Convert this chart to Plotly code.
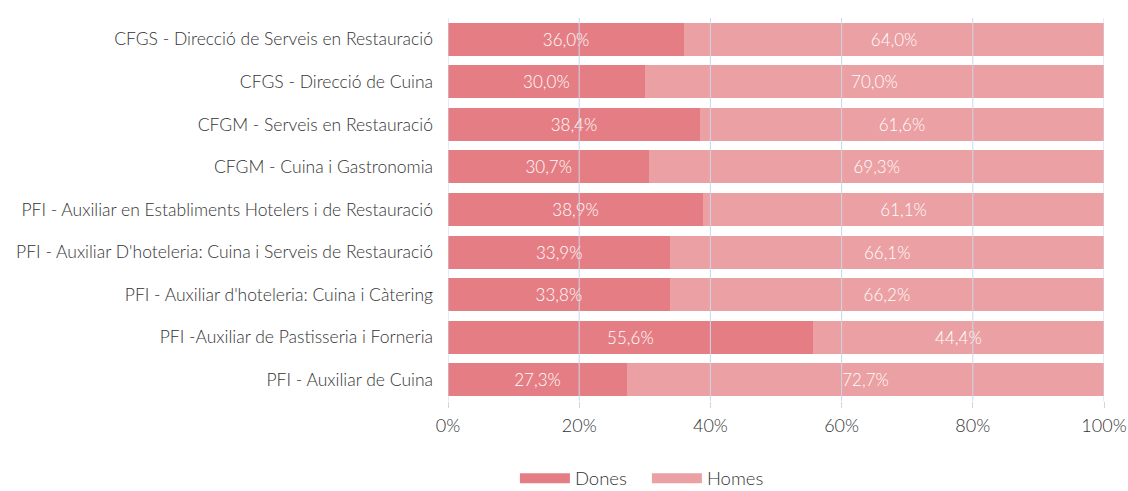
import plotly.graph_objects as go

categories = [
    "CFGS - Direcció de Serveis en Restauració",
    "CFGS - Direcció de Cuina",
    "CFGM - Serveis en Restauració",
    "CFGM - Cuina i Gastronomia",
    "PFI - Auxiliar en Establiments Hotelers i de Restauració",
    "PFI - Auxiliar D'hoteleria: Cuina i Serveis de Restauració",
    "PFI - Auxiliar d'hoteleria: Cuina i Càtering",
    "PFI -Auxiliar de Pastisseria i Forneria",
    "PFI - Auxiliar de Cuina",
]
dones = [36.0, 30.0, 38.4, 30.7, 38.9, 33.9, 33.8, 55.6, 27.3]
homes = [64.0, 70.0, 61.6, 69.3, 61.1, 66.1, 66.2, 44.4, 72.7]
tick_vals = [0, 20, 40, 60, 80, 100]
tick_text = ["0%", "20%", "40%", "60%", "80%", "100%"]
series_names = ["Dones", "Homes"]
series_colors = ["#e57e84", "#eba0a3"]

FONT = "Lato"
grid_color = "#ccd6eb"
txt_color = "#333333"

fig = go.Figure()
for name, vals, col in zip(series_names, [dones, homes], series_colors):
    fig.add_trace(go.Bar(
        y=categories, x=vals, name=name, orientation="h",
        marker=dict(color=col, line=dict(width=0)),
        texttemplate="%{x:.1f}%", textposition="inside", insidetextanchor="middle",
        textfont=dict(color="white", size=17, family=FONT, weight=300),
        hoverinfo="skip", showlegend=False,
    ))
# legend-only entries with wide swatches
for name, col in zip(series_names, series_colors):
    fig.add_trace(go.Scatter(
        x=[None], y=[None], mode="lines", name=name,
        line=dict(color=col, width=15), hoverinfo="skip",
    ))

for v in tick_vals:
    fig.add_shape(type="line", xref="x", yref="paper", x0=v, x1=v, y0=0, y1=1,
                  line=dict(color=grid_color, width=1), layer="above")

fig.update_layout(
    barmode="stack",
    bargap=0.225,
    separators=", ",
    width=1128, height=491,
    margin=dict(l=448, r=24, t=18, b=90, autoexpand=False),
    plot_bgcolor="white", paper_bgcolor="white",
    font=dict(family=FONT, size=17, color=txt_color, weight=300),
    uniformtext=dict(mode="show", minsize=10),
    xaxis=dict(range=[0, 100], tickvals=tick_vals, ticktext=tick_text,
               showgrid=False, zeroline=False, ticks="outside", ticklen=6,
               tickcolor=grid_color, automargin=False, ticklabelstandoff=2,
               tickfont=dict(size=18, color=txt_color, family=FONT, weight=300),
               fixedrange=True),
    yaxis=dict(autorange="reversed", showgrid=False, ticks="", ticklabelstandoff=14,
               automargin=False,
               tickfont=dict(size=17.5, color=txt_color, family=FONT, weight=300),
               fixedrange=True),
    legend=dict(orientation="h", x=0.102, xanchor="left", y=-0.203, yanchor="middle",
                font=dict(size=18.5, color=txt_color, family=FONT, weight=300),
                traceorder="normal", itemwidth=50, entrywidth=67),
    showlegend=True,
)

fig.write_html("out.html",
               config={"displayModeBar": False, "staticPlot": True},
               post_script="document.body.style.margin='0';document.body.style.overflow='hidden';")
